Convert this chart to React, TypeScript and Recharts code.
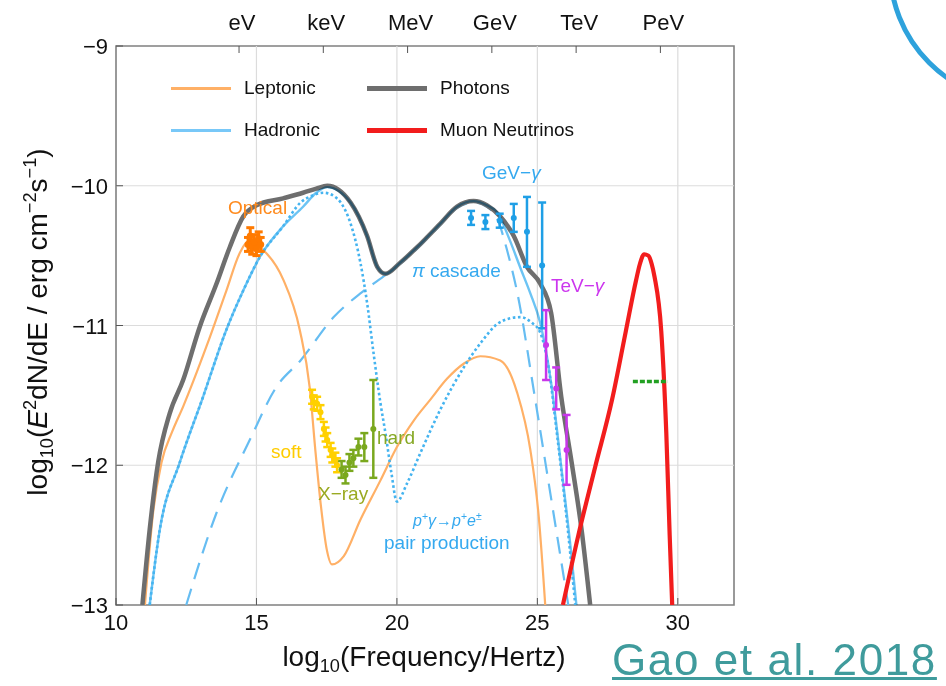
import React from "react";
import { ComposedChart, Line, Scatter, ErrorBar, XAxis, YAxis, ReferenceLine, ReferenceArea } from "recharts";

// x = log10(frequency / Hz), y = log10(E^2 dN/dE / erg cm^-2 s^-1)
const photonsX = [10.94, 11.2, 11.5, 11.91, 12.39, 12.98, 13.58, 14.05, 14.53, 15.0, 15.95, 16.66, 17.13, 17.52, 18.35, 18.94, 19.3, 19.59, 20.12, 20.72, 21.55, 22.14, 22.73, 23.2, 23.68, 24.16, 24.63, 25.1, 25.49, 25.85, 26.22, 26.58, 26.88];
const photonsY = [-13, -12.46, -11.98, -11.63, -11.39, -11.01, -10.7, -10.44, -10.22, -10.14, -10.09, -10.05, -10.02, -10.0, -10.12, -10.36, -10.58, -10.63, -10.55, -10.44, -10.27, -10.15, -10.11, -10.14, -10.22, -10.36, -10.58, -10.7, -10.91, -11.51, -11.98, -12.47, -13];

const leptonicX = [11.03, 11.32, 11.62, 12.0, 12.39, 13.22, 13.93, 14.41, 14.7, 15.24, 15.95, 16.54, 16.9, 17.1, 17.3, 17.5, 17.69, 18.11, 18.7, 19.41, 20.0, 20.6, 21.19, 21.79, 22.4, 22.97, 23.68, 24.28, 24.75, 25.05, 25.28];
const leptonicY = [-13, -12.34, -11.98, -11.76, -11.58, -11.15, -10.75, -10.48, -10.4, -10.46, -10.67, -11.03, -11.45, -11.9, -12.3, -12.6, -12.71, -12.65, -12.39, -12.11, -11.87, -11.68, -11.53, -11.38, -11.27, -11.22, -11.25, -11.48, -11.89, -12.37, -13];

const hadronicX = [11.2, 11.56, 12.27, 13.1, 13.93, 14.53, 15.12, 15.95, 16.66, 17.13, 17.52, 18.35, 18.94, 19.3, 19.59, 20.12, 20.72, 21.55, 22.14, 22.73, 23.2, 23.6, 24.0, 24.4, 24.75, 25.1, 25.49, 25.85, 26.2, 26.39];
const hadronicY = [-13, -12.46, -11.98, -11.51, -11.03, -10.75, -10.51, -10.29, -10.15, -10.05, -10.01, -10.12, -10.36, -10.58, -10.63, -10.55, -10.44, -10.27, -10.15, -10.11, -10.14, -10.2, -10.38, -10.59, -10.77, -10.98, -11.41, -12.01, -12.62, -13];

// p+ gamma -> p+ e+- pair production (dotted)
const pairX = [11.2, 11.56, 12.27, 13.1, 13.93, 14.53, 15.12, 15.95, 16.57, 17.0, 17.4, 17.8, 18.0, 18.35, 18.7, 18.94, 19.17, 19.41, 19.6, 19.8, 20.0, 20.36, 20.84, 21.55, 22.38, 23.0, 23.57, 24.0, 24.4, 24.8, 25.1, 25.4, 25.7, 26.0, 26.35];
const pairY = [-13, -12.46, -11.98, -11.51, -11.03, -10.75, -10.51, -10.29, -10.12, -10.07, -10.05, -10.08, -10.12, -10.27, -10.55, -10.84, -11.2, -11.55, -11.78, -12.05, -12.26, -12.13, -11.91, -11.6, -11.3, -11.12, -10.99, -10.95, -10.94, -10.98, -11.05, -11.3, -11.78, -12.3, -13];

// pi cascade (dashed)
const cascadeX = [12.5, 13.58, 14.76, 15.71, 16.57, 17.75, 18.7, 19.59, 20.12, 20.72, 21.55, 22.14, 22.73, 23.2, 23.6, 23.92, 24.3, 24.9, 25.5, 26.1];
const cascadeY = [-13, -12.34, -11.82, -11.44, -11.25, -10.94, -10.77, -10.64, -10.56, -10.45, -10.28, -10.16, -10.12, -10.15, -10.25, -10.46, -10.78, -11.5, -12.25, -13];

const neutrinoX = [25.91, 26.46, 27.06, 27.66, 28.15, 28.51, 28.65, 28.8, 28.95, 29.07, 29.17, 29.41, 29.59, 29.71, 29.8];
const neutrinoY = [-13, -12.5, -12.01, -11.53, -11.04, -10.68, -10.56, -10.49, -10.5, -10.56, -10.65, -11.04, -11.77, -12.5, -13];

const limitX = [28.4, 29.65];
const limitY = [-11.4, -11.4];

// observations with symmetric errors
const opticalX = [14.7, 14.78, 14.85, 14.92, 15.0, 15.08, 15.15];
const opticalY = [-10.42, -10.36, -10.44, -10.4, -10.45, -10.38, -10.42];
const opticalErr = [0.05, 0.06, 0.05, 0.05, 0.05, 0.05, 0.05];

const softX = [16.98, 17.04, 17.16, 17.28, 17.4, 17.46, 17.52, 17.64, 17.7, 17.81, 17.87];
const softY = [-11.51, -11.55, -11.56, -11.62, -11.74, -11.78, -11.82, -11.89, -11.93, -11.96, -12.0];
const softErr = [0.05, 0.05, 0.05, 0.05, 0.05, 0.05, 0.05, 0.05, 0.05, 0.05, 0.05];

const hardX = [18.03, 18.17, 18.31, 18.45, 18.63, 18.84, 19.16];
const hardY = [-12.03, -12.07, -11.98, -11.95, -11.87, -11.87, -11.74];
const hardErr = [0.06, 0.06, 0.06, 0.06, 0.06, 0.1, 0.35];

const gevX = [22.64, 23.15, 23.66, 24.16, 24.63, 25.17];
const gevY = [-10.23, -10.26, -10.25, -10.23, -10.33, -10.57];
const gevErr = [0.05, 0.05, 0.05, 0.1, 0.25, 0.45];

const tevX = [25.31, 25.67, 26.04];
const tevY = [-11.14, -11.45, -11.89];
const tevErr = [0.25, 0.15, 0.25];

const xTicks = [10, 15, 20, 25, 30];
const yTicks = [-13, -12, -11, -10, -9];
const gridX = [15, 20, 25, 30];
const gridY = [-12, -11, -10];
const energyTicks = [14.38, 17.38, 20.38, 23.38, 26.38, 29.38];
const energyLabels = ["eV", "keV", "MeV", "GeV", "TeV", "PeV"];

const zip = (xs: number[], ys: number[]) => xs.map((x, i) => ({ x, y: ys[i] }));
const zipErr = (xs: number[], ys: number[], es: number[]) => xs.map((x, i) => ({ x, y: ys[i], err: es[i] }));

const FONT = "'Liberation Sans', Arial, sans-serif";
const C = {
  leptonic: "#ffb066",
  hadronic: "#6cc4f4",
  pair: "#45b4f0",
  cascade: "#66bdf2",
  photons: "#6e6e6e",
  neutrino: "#f21d1d",
  limit: "#22a022",
  optical: "#ff7a00",
  soft: "#ffd000",
  hard: "#7aa81e",
  gev: "#1f9fe6",
  tev: "#c837ea",
};

const fmt = (v: number) => (v < 0 ? "\u2212" + Math.abs(v) : String(v));

const BottomTick = (p: any) => (
  <g>
    <line x1={p.x} x2={p.x} y1={p.y} y2={p.y - 7} stroke="#555" />
    <text x={p.x} y={p.y + 25} textAnchor="middle" fontSize={22} fontFamily={FONT} fill="#111">
      {p.payload.value}
    </text>
  </g>
);

const LeftTick = (p: any) => (
  <g>
    <line x1={p.x} x2={p.x + 7} y1={p.y} y2={p.y} stroke="#555" />
    <text x={p.x - 8} y={p.y + 8} textAnchor="end" fontSize={22} fontFamily={FONT} fill="#111">
      {fmt(p.payload.value)}
    </text>
  </g>
);

const TopTick = (p: any) => (
  <g>
    <line x1={p.x} x2={p.x} y1={p.y} y2={p.y + 7} stroke="#555" />
    <text x={p.x + 3} y={p.y - 16} textAnchor="middle" fontSize={22} fontFamily={FONT} fill="#111">
      {energyLabels[energyTicks.indexOf(p.payload.value)]}
    </text>
  </g>
);

const dot = (r: number, color: string) => (p: any) => <circle cx={p.cx} cy={p.cy} r={r} fill={color} />;

const legendRows = [
  [
    { name: "Leptonic", color: C.leptonic, w: 3 },
    { name: "Photons", color: C.photons, w: 5 },
  ],
  [
    { name: "Hadronic", color: "#78c8f8", w: 3 },
    { name: "Muon Neutrinos", color: C.neutrino, w: 5 },
  ],
];

const notes = [
  { html: "Optical", x: 228, y: 207, color: "#ff8a1c", size: 19 },
  { html: "GeV\u2212<i>\u03b3</i>", x: 482, y: 172, color: "#35a9ef", size: 19 },
  { html: "<i>\u03c0</i> cascade", x: 412, y: 270, color: "#35a9ef", size: 19 },
  { html: "TeV\u2212<i>\u03b3</i>", x: 551, y: 285, color: "#cc35ee", size: 19 },
  { html: "soft", x: 271, y: 451, color: "#ffcc00", size: 19 },
  { html: "hard", x: 377, y: 437, color: "#86a824", size: 19 },
  { html: "X\u2212ray", x: 318, y: 493, color: "#9aaa22", size: 19 },
  { html: "<i>p</i><sup>+</sup><i>\u03b3</i>\u2192<i>p</i><sup>+</sup><i>e</i><sup>\u00b1</sup>", x: 413, y: 521, color: "#35a9ef", size: 16 },
  { html: "pair production", x: 384, y: 542, color: "#35a9ef", size: 19 },
];

export default function App() {
  const lineProps = { dot: false, activeDot: false, isAnimationActive: false, type: "monotone" as const, dataKey: "y" };
  return (
    <div style={{ position: "absolute", left: 0, top: 0, width: 946, height: 686, background: "#fff", fontFamily: FONT, overflow: "hidden" }}>
      <style>{`.had { mix-blend-mode: multiply; } sup { font-size: 0.65em; line-height: 0; }`}</style>
      <ComposedChart width={946} height={686} margin={{ top: 16, right: 212, bottom: 51, left: 56 }}>
        <XAxis dataKey="x" type="number" domain={[10, 32]} ticks={xTicks} tick={BottomTick} tickSize={0} tickMargin={0} tickLine={false} axisLine={false} height={30} allowDataOverflow interval={0} />
        <XAxis xAxisId="top" orientation="top" dataKey="x" type="number" domain={[10, 32]} ticks={energyTicks} tick={TopTick} tickSize={0} tickMargin={0} tickLine={false} axisLine={false} height={30} allowDataOverflow interval={0} />
        <YAxis type="number" domain={[-13, -9]} ticks={yTicks} tick={LeftTick} tickSize={0} tickMargin={0} tickLine={false} axisLine={false} width={60} allowDataOverflow interval={0} />

        {gridX.map((v) => (
          <ReferenceLine key={"gx" + v} x={v} stroke="#dcdcdc" strokeWidth={1.2} />
        ))}
        {gridY.map((v) => (
          <ReferenceLine key={"gy" + v} y={v} stroke="#dcdcdc" strokeWidth={1.2} />
        ))}

        <Line {...lineProps} data={zip(cascadeX, cascadeY)} stroke={C.cascade} strokeWidth={2.2} strokeDasharray="17 10" />
        <Line {...lineProps} data={zip(leptonicX, leptonicY)} stroke={C.leptonic} strokeWidth={2.2} />
        <Line {...lineProps} data={zip(photonsX, photonsY)} stroke={C.photons} strokeWidth={4.5} />
        <Line {...lineProps} className="had" data={zip(hadronicX, hadronicY)} stroke={C.hadronic} strokeWidth={2.4} />
        <Line {...lineProps} data={zip(pairX, pairY)} stroke={C.pair} strokeWidth={2.6} strokeDasharray="2.6 2.6" />
        <Line {...lineProps} data={zip(neutrinoX, neutrinoY)} stroke={C.neutrino} strokeWidth={4.2} />
        <Line {...lineProps} type="linear" data={zip(limitX, limitY)} stroke={C.limit} strokeWidth={3.5} strokeDasharray="5 2" />

        <Scatter data={zipErr(opticalX, opticalY, opticalErr)} dataKey="y" isAnimationActive={false} shape={dot(3.5, C.optical)}>
          <ErrorBar dataKey="err" direction="y" width={4} stroke={C.optical} strokeWidth={3} />
        </Scatter>
        <Scatter data={zipErr(softX, softY, softErr)} dataKey="y" isAnimationActive={false} shape={dot(3, C.soft)}>
          <ErrorBar dataKey="err" direction="y" width={4} stroke={C.soft} strokeWidth={2.5} />
        </Scatter>
        <Scatter data={zipErr(hardX, hardY, hardErr)} dataKey="y" isAnimationActive={false} shape={dot(3, C.hard)}>
          <ErrorBar dataKey="err" direction="y" width={4} stroke={C.hard} strokeWidth={2.5} />
        </Scatter>
        <Scatter data={zipErr(gevX, gevY, gevErr)} dataKey="y" isAnimationActive={false} shape={dot(3, C.gev)}>
          <ErrorBar dataKey="err" direction="y" width={4} stroke={C.gev} strokeWidth={2.5} />
        </Scatter>
        <Scatter data={zipErr(tevX, tevY, tevErr)} dataKey="y" isAnimationActive={false} shape={dot(3, C.tev)}>
          <ErrorBar dataKey="err" direction="y" width={4} stroke={C.tev} strokeWidth={2.5} />
        </Scatter>

        <ReferenceArea x1={10} x2={32} y1={-13} y2={-9} fill="none" stroke="#808080" strokeWidth={1.6} />
      </ComposedChart>

      {/* legend */}
      {legendRows.map((row, ri) =>
        row.map((item, ci) => (
          <div key={item.name} style={{ position: "absolute", left: ci === 0 ? 171 : 367, top: 88 + ri * 42, transform: "translateY(-50%)", display: "flex", alignItems: "center", fontSize: 19, color: "#111", whiteSpace: "nowrap" }}>
            <span style={{ display: "inline-block", width: 60, height: item.w, background: item.color, marginRight: 13 }} />
            {item.name}
          </div>
        ))
      )}

      {notes.map((n, i) => (
        <div key={i} style={{ position: "absolute", left: n.x, top: n.y, transform: "translateY(-50%)", color: n.color, fontSize: n.size, whiteSpace: "nowrap", lineHeight: 1 }} dangerouslySetInnerHTML={{ __html: n.html }} />
      ))}

      <div style={{ position: "absolute", left: 424, top: 659, transform: "translate(-50%, -50%)", fontSize: 28, color: "#111", whiteSpace: "nowrap", lineHeight: 1 }}>
        log<sub style={{ fontSize: "0.65em" }}>10</sub>(Frequency/Hertz)
      </div>
      <div style={{ position: "absolute", left: 40, top: 322, transform: "translate(-50%, -50%) rotate(-90deg)", fontSize: 28, color: "#111", whiteSpace: "nowrap", lineHeight: 1 }}>
        log<sub style={{ fontSize: "0.65em" }}>10</sub>(<i>E</i><sup>2</sup>dN/dE / erg cm<sup>{"\u2212"}2</sup>s<sup>{"\u2212"}1</sup>)
      </div>

      <div style={{ position: "absolute", left: 612, top: 638, fontSize: 44, letterSpacing: 1.6, color: "#3f9b9c", textDecoration: "underline", textDecorationThickness: 2.5, textUnderlineOffset: 2, whiteSpace: "nowrap", lineHeight: 1 }}>
        Gao et al. 2018
      </div>

      <svg width={946} height={686} style={{ position: "absolute", left: 0, top: 0, pointerEvents: "none" }}>
        <circle cx={1024} cy={-32} r={134} fill="none" stroke="#2ea2dc" strokeWidth={5} />
      </svg>
    </div>
  );
}
